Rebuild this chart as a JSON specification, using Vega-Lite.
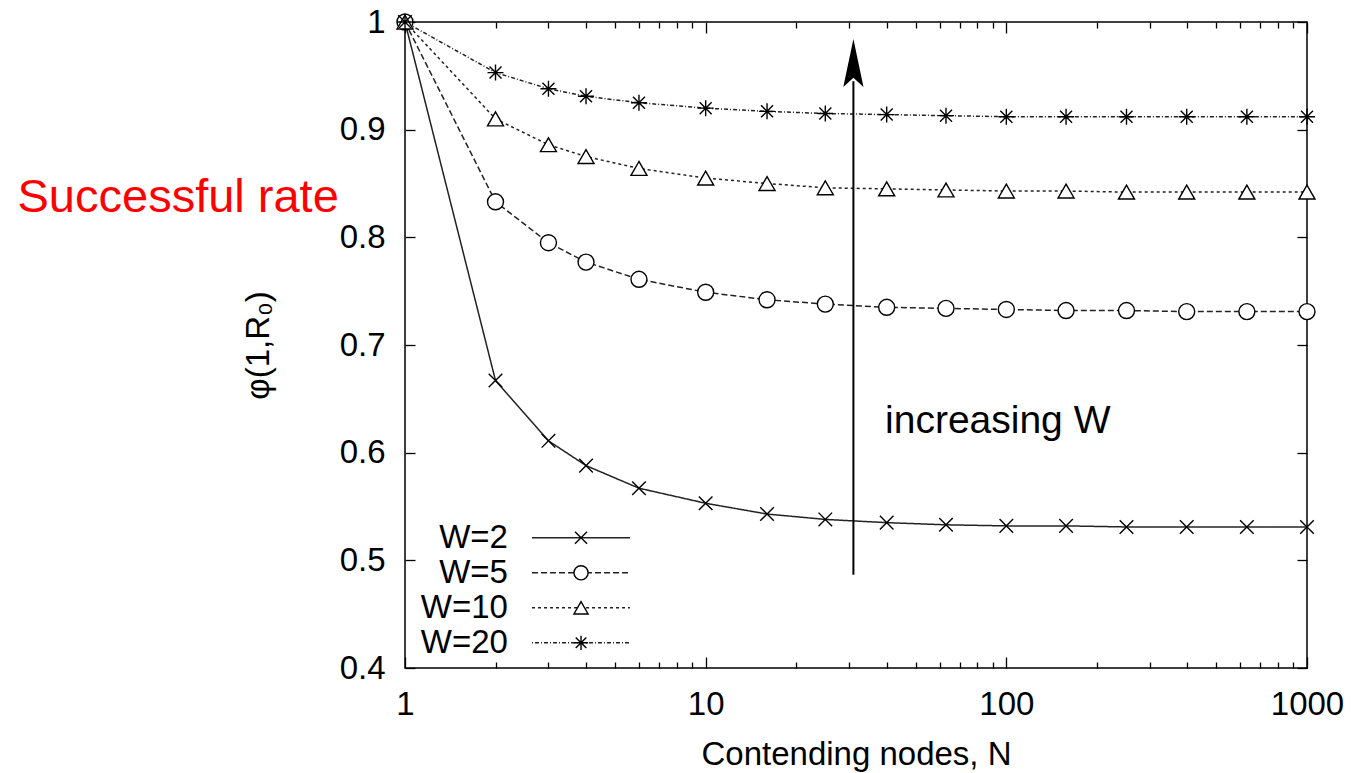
{
  "$schema": "https://vega.github.io/schema/vega-lite/v6.json",
  "width": 902,
  "height": 646,
  "autosize": {"type": "none"},
  "padding": {"left": 405, "top": 22, "right": 46, "bottom": 105},
  "background": "white",
  "config": {
    "view": {"stroke": "black", "strokeWidth": 1.5},
    "font": "Liberation Sans",
    "axis": {"grid": false, "domain": false, "tickColor": "black", "tickWidth": 1.3, "labelColor": "black", "titleColor": "black", "labelFont": "Liberation Sans", "titleFont": "Liberation Sans", "labelFontSize": 33, "titleFontSize": 33, "titleFontWeight": "normal"}
  },
  "title": {"text": "Successful rate", "orient": "left", "angle": 0, "anchor": "middle", "frame": "group", "align": "right", "baseline": "alphabetic", "color": "#ff0000", "fontSize": 47, "font": "Liberation Sans", "fontWeight": "normal", "offset": -418, "dy": -133},
  "data": {"values": [
    {"N": 1, "phi": 1, "W": "W=2"}, {"N": 2, "phi": 0.667, "W": "W=2"}, {"N": 3, "phi": 0.611, "W": "W=2"}, {"N": 4, "phi": 0.588, "W": "W=2"}, {"N": 6, "phi": 0.567, "W": "W=2"}, {"N": 10, "phi": 0.553, "W": "W=2"}, {"N": 16, "phi": 0.543, "W": "W=2"}, {"N": 25, "phi": 0.538, "W": "W=2"}, {"N": 40, "phi": 0.535, "W": "W=2"}, {"N": 63, "phi": 0.533, "W": "W=2"}, {"N": 100, "phi": 0.532, "W": "W=2"}, {"N": 158, "phi": 0.532, "W": "W=2"}, {"N": 251, "phi": 0.531, "W": "W=2"}, {"N": 398, "phi": 0.531, "W": "W=2"}, {"N": 631, "phi": 0.531, "W": "W=2"}, {"N": 1000, "phi": 0.531, "W": "W=2"},
    {"N": 1, "phi": 1, "W": "W=5"}, {"N": 2, "phi": 0.833, "W": "W=5"}, {"N": 3, "phi": 0.795, "W": "W=5"}, {"N": 4, "phi": 0.777, "W": "W=5"}, {"N": 6, "phi": 0.761, "W": "W=5"}, {"N": 10, "phi": 0.749, "W": "W=5"}, {"N": 16, "phi": 0.742, "W": "W=5"}, {"N": 25, "phi": 0.738, "W": "W=5"}, {"N": 40, "phi": 0.735, "W": "W=5"}, {"N": 63, "phi": 0.734, "W": "W=5"}, {"N": 100, "phi": 0.733, "W": "W=5"}, {"N": 158, "phi": 0.732, "W": "W=5"}, {"N": 251, "phi": 0.732, "W": "W=5"}, {"N": 398, "phi": 0.731, "W": "W=5"}, {"N": 631, "phi": 0.731, "W": "W=5"}, {"N": 1000, "phi": 0.731, "W": "W=5"},
    {"N": 1, "phi": 1, "W": "W=10"}, {"N": 2, "phi": 0.910, "W": "W=10"}, {"N": 3, "phi": 0.886, "W": "W=10"}, {"N": 4, "phi": 0.875, "W": "W=10"}, {"N": 6, "phi": 0.864, "W": "W=10"}, {"N": 10, "phi": 0.855, "W": "W=10"}, {"N": 16, "phi": 0.850, "W": "W=10"}, {"N": 25, "phi": 0.846, "W": "W=10"}, {"N": 40, "phi": 0.845, "W": "W=10"}, {"N": 63, "phi": 0.844, "W": "W=10"}, {"N": 100, "phi": 0.843, "W": "W=10"}, {"N": 158, "phi": 0.843, "W": "W=10"}, {"N": 251, "phi": 0.842, "W": "W=10"}, {"N": 398, "phi": 0.842, "W": "W=10"}, {"N": 631, "phi": 0.842, "W": "W=10"}, {"N": 1000, "phi": 0.842, "W": "W=10"},
    {"N": 1, "phi": 1, "W": "W=20"}, {"N": 2, "phi": 0.953, "W": "W=20"}, {"N": 3, "phi": 0.938, "W": "W=20"}, {"N": 4, "phi": 0.931, "W": "W=20"}, {"N": 6, "phi": 0.925, "W": "W=20"}, {"N": 10, "phi": 0.920, "W": "W=20"}, {"N": 16, "phi": 0.917, "W": "W=20"}, {"N": 25, "phi": 0.915, "W": "W=20"}, {"N": 40, "phi": 0.914, "W": "W=20"}, {"N": 63, "phi": 0.913, "W": "W=20"}, {"N": 100, "phi": 0.912, "W": "W=20"}, {"N": 158, "phi": 0.912, "W": "W=20"}, {"N": 251, "phi": 0.912, "W": "W=20"}, {"N": 398, "phi": 0.912, "W": "W=20"}, {"N": 631, "phi": 0.912, "W": "W=20"}, {"N": 1000, "phi": 0.912, "W": "W=20"}
  ]},
  "resolve": {"axis": {"x": "independent", "y": "independent"}},
  "layer": [
    {
      "mark": {"type": "line", "color": "#222222", "strokeWidth": 1.5},
      "encoding": {
        "x": {"field": "N", "type": "quantitative",
          "scale": {"type": "log", "domain": [1, 1000], "nice": false},
          "axis": {"orient": "bottom", "title": "Contending nodes, N", "values": [1,2,3,4,5,6,7,8,9,10,20,30,40,50,60,70,80,90,100,200,300,400,500,600,700,800,900,1000],
            "labelExpr": "indexof([1,10,100,1000], datum.value) >= 0 ? '' + datum.value : ''",
            "labelOverlap": false, "labelFlush": false, "labelPadding": 31, "titlePadding": 12,
            "tickSize": {"condition": {"test": "indexof([1,10,100,1000], datum.value) >= 0", "value": -11}, "value": -6}}},
        "y": {"field": "phi", "type": "quantitative",
          "scale": {"domain": [0.4, 1], "nice": false, "zero": false},
          "axis": {"orient": "left", "title": "φ(1,R₀)", "values": [0.4,0.5,0.6,0.7,0.8,0.9,1], "format": "~g", "tickSize": -10, "labelPadding": 30, "titlePadding": 64}},
        "strokeDash": {"field": "W", "type": "nominal", "legend": null,
          "scale": {"domain": ["W=2","W=5","W=10","W=20"], "range": [[1,0],[6,3],[3,3],[1,2,4,2]]}},
        "detail": {"field": "W"}
      }
    },
    {
      "mark": {"type": "point", "filled": true, "fill": "white", "stroke": "black", "strokeWidth": 1.4, "size": 256, "opacity": 1},
      "encoding": {
        "x": {"field": "N", "type": "quantitative",
          "axis": {"orient": "top", "title": null, "labels": false, "values": [1,2,3,4,5,6,7,8,9,10,20,30,40,50,60,70,80,90,100,200,300,400,500,600,700,800,900,1000],
            "tickSize": {"condition": {"test": "indexof([1,10,100,1000], datum.value) >= 0", "value": -11}, "value": -6}}},
        "y": {"field": "phi", "type": "quantitative",
          "axis": {"orient": "right", "title": null, "labels": false, "values": [0.4,0.5,0.6,0.7,0.8,0.9,1], "tickSize": -10}},
        "shape": {"field": "W", "type": "nominal", "legend": null,
          "scale": {"domain": ["W=2","W=5","W=10","W=20"], "range": ["M-0.85,-0.85L0.85,0.85M-0.85,0.85L0.85,-0.85", "circle", "triangle-up", "M-1,0L1,0M0,-1L0,1M-0.75,-0.75L0.75,0.75M-0.75,0.75L0.75,-0.75"]}}
      }
    },
    {
      "transform": [{"filter": "datum.N == 1 && datum.W == 'W=2'"}],
      "encoding": {"y": {"datum": 0.5209, "type": "quantitative", "axis": null}},
      "layer": [
        {"mark": {"type": "rule", "color": "#222222", "strokeWidth": 1.5},
         "encoding": {"x": {"datum": 2.645, "type": "quantitative", "axis": null}, "x2": {"datum": 5.6},
           "strokeDash": {"field": "W", "type": "nominal", "legend": null, "scale": {"domain": ["W=2","W=5","W=10","W=20"]}}}},
        {"mark": {"type": "point", "filled": true, "fill": "white", "stroke": "black", "strokeWidth": 1.4, "size": 200, "opacity": 1},
         "encoding": {"x": {"datum": 3.85, "type": "quantitative", "axis": null},
           "shape": {"field": "W", "type": "nominal", "legend": null, "scale": {"domain": ["W=2","W=5","W=10","W=20"]}}}},
        {"mark": {"type": "text", "align": "right", "baseline": "middle", "fontSize": 33, "font": "Liberation Sans", "color": "black"},
         "encoding": {"x": {"datum": 2.2, "type": "quantitative", "axis": null}, "text": {"field": "W", "type": "nominal"}}}
      ]
    },
    {
      "transform": [{"filter": "datum.N == 1 && datum.W == 'W=5'"}],
      "encoding": {"y": {"datum": 0.4884, "type": "quantitative", "axis": null}},
      "layer": [
        {"mark": {"type": "rule", "color": "#222222", "strokeWidth": 1.5},
         "encoding": {"x": {"datum": 2.645, "type": "quantitative", "axis": null}, "x2": {"datum": 5.6},
           "strokeDash": {"field": "W", "type": "nominal", "legend": null, "scale": {"domain": ["W=2","W=5","W=10","W=20"]}}}},
        {"mark": {"type": "point", "filled": true, "fill": "white", "stroke": "black", "strokeWidth": 1.4, "size": 200, "opacity": 1},
         "encoding": {"x": {"datum": 3.85, "type": "quantitative", "axis": null},
           "shape": {"field": "W", "type": "nominal", "legend": null, "scale": {"domain": ["W=2","W=5","W=10","W=20"]}}}},
        {"mark": {"type": "text", "align": "right", "baseline": "middle", "fontSize": 33, "font": "Liberation Sans", "color": "black"},
         "encoding": {"x": {"datum": 2.2, "type": "quantitative", "axis": null}, "text": {"field": "W", "type": "nominal"}}}
      ]
    },
    {
      "transform": [{"filter": "datum.N == 1 && datum.W == 'W=10'"}],
      "encoding": {"y": {"datum": 0.4559, "type": "quantitative", "axis": null}},
      "layer": [
        {"mark": {"type": "rule", "color": "#222222", "strokeWidth": 1.5},
         "encoding": {"x": {"datum": 2.645, "type": "quantitative", "axis": null}, "x2": {"datum": 5.6},
           "strokeDash": {"field": "W", "type": "nominal", "legend": null, "scale": {"domain": ["W=2","W=5","W=10","W=20"]}}}},
        {"mark": {"type": "point", "filled": true, "fill": "white", "stroke": "black", "strokeWidth": 1.4, "size": 200, "opacity": 1},
         "encoding": {"x": {"datum": 3.85, "type": "quantitative", "axis": null},
           "shape": {"field": "W", "type": "nominal", "legend": null, "scale": {"domain": ["W=2","W=5","W=10","W=20"]}}}},
        {"mark": {"type": "text", "align": "right", "baseline": "middle", "fontSize": 33, "font": "Liberation Sans", "color": "black"},
         "encoding": {"x": {"datum": 2.2, "type": "quantitative", "axis": null}, "text": {"field": "W", "type": "nominal"}}}
      ]
    },
    {
      "transform": [{"filter": "datum.N == 1 && datum.W == 'W=20'"}],
      "encoding": {"y": {"datum": 0.4234, "type": "quantitative", "axis": null}},
      "layer": [
        {"mark": {"type": "rule", "color": "#222222", "strokeWidth": 1.5},
         "encoding": {"x": {"datum": 2.645, "type": "quantitative", "axis": null}, "x2": {"datum": 5.6},
           "strokeDash": {"field": "W", "type": "nominal", "legend": null, "scale": {"domain": ["W=2","W=5","W=10","W=20"]}}}},
        {"mark": {"type": "point", "filled": true, "fill": "white", "stroke": "black", "strokeWidth": 1.4, "size": 200, "opacity": 1},
         "encoding": {"x": {"datum": 3.85, "type": "quantitative", "axis": null},
           "shape": {"field": "W", "type": "nominal", "legend": null, "scale": {"domain": ["W=2","W=5","W=10","W=20"]}}}},
        {"mark": {"type": "text", "align": "right", "baseline": "middle", "fontSize": 33, "font": "Liberation Sans", "color": "black"},
         "encoding": {"x": {"datum": 2.2, "type": "quantitative", "axis": null}, "text": {"field": "W", "type": "nominal"}}}
      ]
    },
    {
      "data": {"values": [{}]},
      "mark": {"type": "rule", "color": "black", "strokeWidth": 2},
      "encoding": {
        "x": {"datum": 31, "type": "quantitative", "axis": null},
        "y": {"datum": 0.4866, "type": "quantitative", "axis": null},
        "y2": {"datum": 0.945}
      }
    },
    {
      "data": {"values": [{}]},
      "mark": {"type": "point", "shape": "M0,-1L0.42,1L0,0.62L-0.42,1Z", "filled": true, "color": "black", "opacity": 1, "size": 2304},
      "encoding": {
        "x": {"datum": 31, "type": "quantitative", "axis": null},
        "y": {"datum": 0.962, "type": "quantitative", "axis": null}
      }
    },
    {
      "data": {"values": [{}]},
      "mark": {"type": "text", "text": "increasing W", "align": "left", "baseline": "alphabetic", "fontSize": 39, "font": "Liberation Sans", "color": "black"},
      "encoding": {
        "x": {"datum": 39.5, "type": "quantitative", "axis": null},
        "y": {"datum": 0.618, "type": "quantitative", "axis": null}
      }
    }
  ]
}
